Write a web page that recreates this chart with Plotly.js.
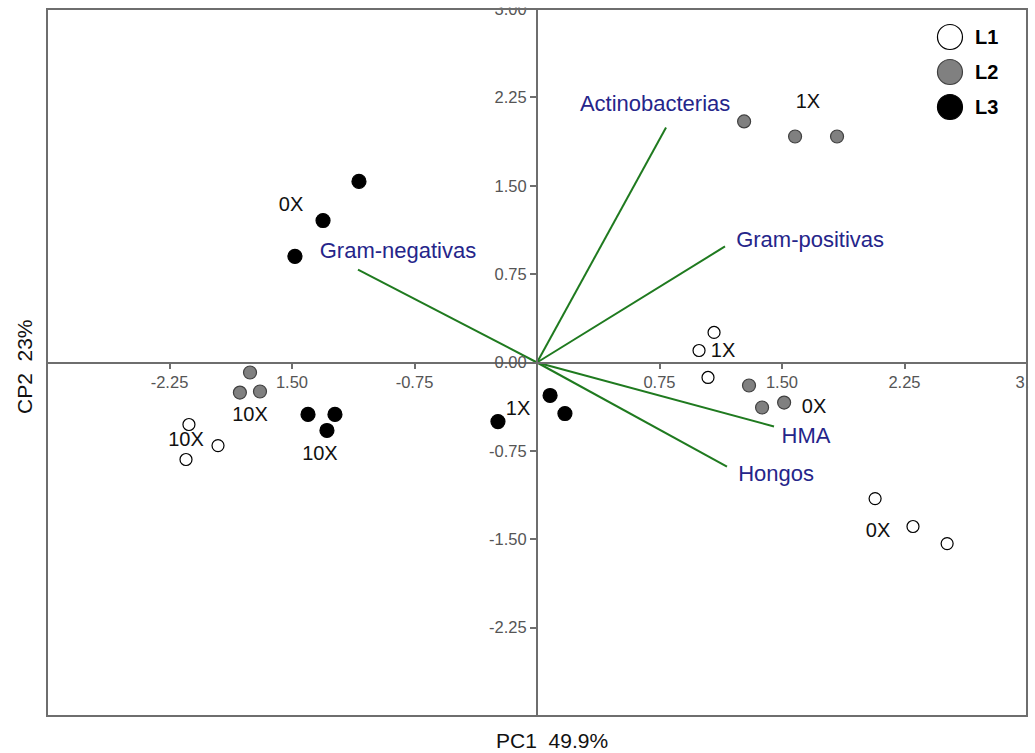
<!DOCTYPE html>
<html>
<head>
<meta charset="utf-8">
<script src="https://cdn.plot.ly/plotly-3.0.1.min.js"></script>
<style>
  html, body { margin: 0; padding: 0; background: #ffffff; }
  #chart { width: 1035px; height: 753px; }
</style>
</head>
<body>
<div id="chart"></div>
<script>
// ---- Data (scores on PC1 / CP2) ----
const seriesNames = ['L1', 'L2', 'L3'];

const l1X = [1.084, 0.992, 1.047, -2.131, -1.953, -2.149, 2.070, 2.302, 2.511];
const l1Y = [0.255, 0.102, -0.127, -0.526, -0.705, -0.823, -1.155, -1.392, -1.537];

const l2X = [1.268, 1.580, 1.837, -1.757, -1.819, -1.696, 1.298, 1.378, 1.513];
const l2Y = [2.046, 1.918, 1.918, -0.085, -0.255, -0.246, -0.195, -0.382, -0.340];

const l3X = [-1.090, -1.310, -1.482, -1.402, -1.237, -1.286, -0.239, 0.080, 0.171];
const l3Y = [1.537, 1.205, 0.900, -0.441, -0.441, -0.577, -0.501, -0.280, -0.433];

// ---- Group labels ----
const groupText = ['0X', '10X', '10X', '10X', '1X', '1X', '1X', '0X', '0X'];
const groupX = [-1.506, -1.757, -2.149, -1.329, -0.116, 1.659, 1.139, 1.696, 2.088];
const groupY = [1.324, -0.458, -0.662, -0.789, -0.407, 2.199, 0.093, -0.382, -1.435];

// ---- Loadings (variable vectors) ----
const varNames = ['Gram-negativas', 'Actinobacterias', 'Gram-positivas', 'HMA', 'Hongos'];
const loadX = [-1.096, 0.790, 1.151, 1.451, 1.163];
const loadY = [0.789, 1.995, 0.985, -0.543, -0.883];
const varLabelX = [-0.851, 0.723, 1.672, 1.647, 1.464];
const varLabelY = [0.934, 2.182, 1.027, -0.637, -0.959];

// ---- Axis ticks ----
const xTickVals = [-2.25, -1.5, -0.75, 0.75, 1.5, 2.25, 3.0];
const xTickText = ['-2.25', '1.50', '-0.75', '0.75', '1.50', '2.25', '3.0'];
const yTickVals = [-2.25, -1.5, -0.75, 0, 0.75, 1.5, 2.25, 3.0];
const yTickText = ['-2.25', '-1.50', '-0.75', '0.00', '0.75', '1.50', '2.25', '3.00'];

const xTitle = 'PC1  49.9%';
const yTitle = 'CP2  23%';

// ---- Styles ----
const FONT = 'Liberation Sans, Arial, sans-serif';
const AXIS_COLOR = '#6e6e6e';
const VEC_COLOR = '#1f7a1f';
const VEC_TEXT = '#25258a';
const fills = ['#ffffff', '#808080', '#000000'];
const edges = ['#000000', '#404040', '#000000'];
const sizes = [12, 13, 14];

// build vector line arrays
const vecX = [], vecY = [];
for (let i = 0; i < loadX.length; i++) {
  vecX.push(0, loadX[i], null);
  vecY.push(0, loadY[i], null);
}

const xs = [l1X, l2X, l3X];
const ys = [l1Y, l2Y, l3Y];

const traces = [
  {
    type: 'scatter', mode: 'lines', x: vecX, y: vecY,
    line: { color: VEC_COLOR, width: 2 }, hoverinfo: 'skip', showlegend: false
  },
  {
    type: 'scatter', mode: 'text', x: varLabelX, y: varLabelY, text: varNames,
    textposition: 'middle center',
    textfont: { family: FONT, size: 22, color: VEC_TEXT }, showlegend: false, hoverinfo: 'skip'
  },
  {
    type: 'scatter', mode: 'text', x: groupX, y: groupY, text: groupText,
    textposition: 'middle center',
    textfont: { family: FONT, size: 20, color: '#111111' }, showlegend: false, hoverinfo: 'skip'
  }
];
for (let k = 0; k < 3; k++) {
  traces.push({
    type: 'scatter', mode: 'markers', name: seriesNames[k], x: xs[k], y: ys[k],
    marker: { size: sizes[k], color: fills[k], line: { color: edges[k], width: 1.2 } },
    showlegend: false
  });
}

// manual legend (large circles)
const legendY = [0.9604, 0.9109, 0.8614];
const shapes = [
  // white masks to clip tick labels beyond the frame
  { type: 'rect', xref: 'paper', yref: 'paper', x0: 1.0015, x1: 1.06, y0: -0.1, y1: 1.1,
    fillcolor: '#ffffff', line: { width: 0 }, layer: 'above' },
  { type: 'rect', xref: 'paper', yref: 'paper', x0: -0.1, x1: 1.1, y0: 1.002, y1: 1.05,
    fillcolor: '#ffffff', line: { width: 0 }, layer: 'above' },
  // frame
  { type: 'rect', xref: 'paper', yref: 'paper', x0: 0, x1: 1, y0: 0, y1: 1,
    line: { color: AXIS_COLOR, width: 2 }, fillcolor: 'rgba(0,0,0,0)', layer: 'above' }
];
const annotations = [];
for (let k = 0; k < 3; k++) {
  shapes.push({
    type: 'circle', xref: 'paper', yref: 'paper', xsizemode: 'pixel', ysizemode: 'pixel',
    xanchor: 0.9214, yanchor: legendY[k], x0: -12.5, x1: 12.5, y0: -12.5, y1: 12.5,
    fillcolor: fills[k], line: { color: edges[k], width: 1.2 }, layer: 'above'
  });
  annotations.push({
    xref: 'paper', yref: 'paper', x: 0.945, y: legendY[k], xanchor: 'left', yanchor: 'middle',
    text: '<b>' + seriesNames[k] + '</b>', showarrow: false,
    font: { family: FONT, size: 20, color: '#000000' }
  });
}
annotations.push({
  xref: 'paper', yref: 'paper', x: 0.515, y: -0.034, xanchor: 'center', yanchor: 'middle',
  text: xTitle, showarrow: false, font: { family: FONT, size: 21, color: '#111111' }
});
annotations.push({
  xref: 'paper', yref: 'paper', x: -0.0235, y: 0.495, xanchor: 'center', yanchor: 'middle',
  text: yTitle, textangle: -90, showarrow: false, font: { family: FONT, size: 21, color: '#111111' }
});

const layout = {
  width: 1035, height: 753,
  margin: { l: 47, r: 8, t: 9, b: 37, pad: 0 },
  paper_bgcolor: '#ffffff', plot_bgcolor: '#ffffff',
  showlegend: false,
  font: { family: FONT },
  xaxis: {
    range: [-3, 3], anchor: 'free', position: 0.5,
    showline: true, linecolor: AXIS_COLOR, linewidth: 2,
    ticks: 'outside', ticklen: 5, tickwidth: 1.5, tickcolor: AXIS_COLOR,
    tickmode: 'array', tickvals: xTickVals, ticktext: xTickText,
    ticklabeloverflow: 'allow',
    tickfont: { family: FONT, size: 16.5, color: '#555555' },
    showgrid: false, zeroline: false
  },
  yaxis: {
    range: [-3, 3], anchor: 'free', position: 0.5,
    showline: true, linecolor: AXIS_COLOR, linewidth: 2,
    ticks: 'outside', ticklen: 6, tickwidth: 1.5, tickcolor: AXIS_COLOR,
    tickmode: 'array', tickvals: yTickVals, ticktext: yTickText,
    ticklabeloverflow: 'allow',
    tickfont: { family: FONT, size: 16.5, color: '#555555' },
    showgrid: false, zeroline: false
  },
  shapes: shapes,
  annotations: annotations
};

Plotly.newPlot('chart', traces, layout, { displayModeBar: false, responsive: false });
</script>
</body>
</html>
